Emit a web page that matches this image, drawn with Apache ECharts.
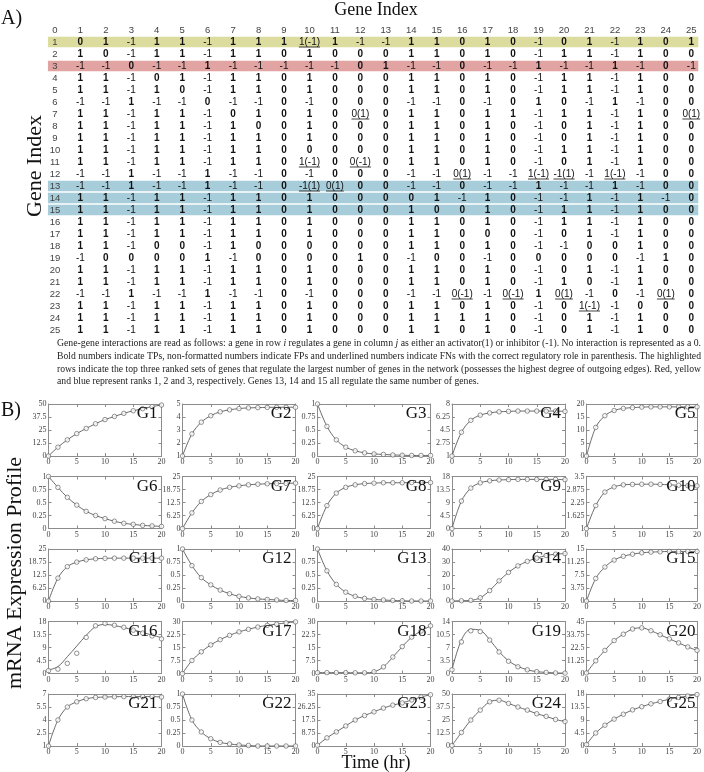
<!DOCTYPE html>
<html><head><meta charset="utf-8">
<script src="https://cdn.jsdelivr.net/npm/echarts/dist/echarts.min.js"></script>
<style>html,body{margin:0;padding:0;background:#fff}#c{width:704px;height:772px}</style>
</head><body><div id="c"></div><script>
// ---------------- DATA ----------------
const columnLabels = ['0','1','2','3','4','5','6','7','8','9','10','11','12','13','14','15','16','17','18','19','20','21','22','23','24','25'];
const interactionRows = [
 '0 1 -1 1 1 -1 1 1 1 1(-1) 1 -1 -1 1 1 0 1 0 -1 0 1 -1 1 0 1',
 '1 0 -1 1 1 -1 1 1 0 1 0 0 0 1 1 0 1 0 -1 1 1 -1 1 0 0',
 '-1 -1 0 -1 -1 1 -1 -1 -1 -1 -1 0 1 -1 -1 0 -1 -1 1 -1 -1 1 -1 0 -1',
 '1 1 -1 0 1 -1 1 1 0 1 0 0 0 1 1 0 1 0 -1 1 1 -1 1 0 0',
 '1 1 -1 1 0 -1 1 1 0 1 0 0 0 1 1 0 1 0 -1 1 1 -1 1 0 0',
 '-1 -1 1 -1 -1 0 -1 -1 0 -1 0 0 0 -1 -1 0 -1 0 1 0 -1 1 -1 0 0',
 '1 1 -1 1 1 -1 0 1 0 1 0 0(1) 0 1 1 0 1 1 -1 1 1 -1 1 0 0(1)',
 '1 1 -1 1 1 -1 1 0 0 1 0 0 0 1 1 0 1 0 -1 0 1 -1 1 0 0',
 '1 1 -1 1 1 -1 1 1 0 1 0 0 0 1 1 0 1 0 -1 0 1 -1 1 0 0',
 '1 1 -1 1 1 -1 1 1 0 0 0 0 0 1 1 0 1 0 -1 1 1 -1 1 0 0',
 '1 1 -1 1 1 -1 1 1 0 1(-1) 0 0(-1) 0 1 1 0 1 0 -1 0 1 -1 1 0 0',
 '-1 -1 1 -1 -1 1 -1 -1 0 -1 0 0 0 -1 -1 0(1) -1 -1 1(-1) -1(1) -1 1(-1) -1 0 0',
 '-1 -1 1 -1 -1 1 -1 -1 0 -1(1) 0(1) 0 0 -1 -1 0 -1 -1 1 -1 -1 1 -1 0 0',
 '1 1 -1 1 1 -1 1 1 0 1 0 0 0 0 1 -1 1 0 -1 -1 1 -1 1 -1 0',
 '1 1 -1 1 1 -1 1 1 0 1 0 0 0 1 0 0 1 0 -1 1 1 -1 1 0 0',
 '1 1 -1 1 1 -1 1 1 0 1 0 0 0 1 1 0 1 0 -1 1 1 -1 1 0 0',
 '1 1 -1 1 1 -1 1 1 0 1 0 0 0 1 1 0 0 0 -1 0 1 -1 1 0 0',
 '1 1 -1 0 0 -1 1 0 0 0 0 0 0 1 1 0 1 0 -1 -1 0 0 1 0 0',
 '-1 0 0 0 0 1 -1 0 0 0 0 1 0 -1 0 0 -1 0 0 0 0 0 -1 1 0',
 '1 1 -1 1 1 -1 1 1 0 1 0 0 0 1 1 0 1 0 -1 0 1 -1 1 0 0',
 '1 1 -1 1 1 -1 1 1 0 1 0 0 0 1 1 0 1 0 -1 1 0 -1 1 0 0',
 '-1 -1 1 -1 -1 1 -1 -1 0 -1 0 0 0 -1 -1 0(-1) -1 0(-1) 1 0(1) -1 0 -1 0(1) 0',
 '1 1 -1 1 1 -1 1 1 0 1 0 0 0 1 1 0 1 0 -1 0 1(-1) -1 0 0 0',
 '1 1 -1 1 1 -1 1 1 0 1 0 0 0 1 1 1 1 0 -1 0 1 -1 1 0 0',
 '1 1 -1 1 1 -1 1 1 0 1 0 0 0 1 1 0 1 0 -1 0 1 -1 1 0 0'
];
const highlightRows = [1, 3, 13, 14, 15];
const highlightRanks = [2, 1, 3, 3, 3];

const timePoints = [0, 1.67, 3.33, 5, 6.67, 8.33, 10, 11.67, 13.33, 15, 16.67, 18.33, 20];
const xTicks = [0, 5, 10, 15, 20];
const g1 = [0, 8.5, 15.5, 21.5, 26.5, 31, 35, 38, 41, 43.5, 45.5, 47.5, 49];
const g2 = [1, 2.7, 3.6, 4.1, 4.4, 4.55, 4.65, 4.7, 4.72, 4.74, 4.75, 4.75, 4.75];
const g3 = [1, 0.57, 0.31, 0.17, 0.1, 0.06, 0.04, 0.03, 0.02, 0.015, 0.01, 0.01, 0.01];
const g4 = [1, 4.2, 5.8, 6.5, 6.8, 6.95, 7.0, 7.05, 7.05, 7.05, 7.05, 7.05, 7.0];
const g5 = [0, 11, 15.5, 17.5, 18.3, 18.6, 18.8, 18.9, 18.9, 18.9, 18.9, 18.9, 18.9];
const g6 = [1, 0.79, 0.6, 0.45, 0.33, 0.25, 0.19, 0.14, 0.1, 0.08, 0.06, 0.05, 0.04];
const g7 = [0, 7.5, 13, 16.3, 18.5, 19.8, 20.5, 21, 21.3, 21.5, 21.6, 21.7, 21.8];
const g8 = [0, 11, 17, 19.8, 21, 21.6, 21.8, 22, 22, 22, 22.1, 22.1, 22.1];
const g9 = [0, 9.5, 14, 15.8, 16.5, 16.8, 16.9, 17, 17, 17, 17, 17, 16.9];
const g10 = [1, 2.1, 2.75, 3.0, 3.1, 3.12, 3.13, 3.13, 3.12, 3.1, 3.08, 3.06, 3.05];
const g11 = [0, 11, 16.5, 18.7, 19.8, 20.3, 20.5, 20.6, 20.6, 20.6, 20.6, 20.6, 20.6];
const g12 = [1, 0.68, 0.45, 0.31, 0.21, 0.14, 0.09, 0.06, 0.04, 0.03, 0.02, 0.01, 0.01];
const g13 = [1, 0.58, 0.32, 0.17, 0.09, 0.05, 0.03, 0.02, 0.01, 0.005, 0, 0, 0];
const g14 = [0, 0.2, 0.5, 2.5, 8, 15.5, 22, 27, 30.5, 33, 35, 36, 36.5];
const g15 = [0, 6.5, 9.8, 11.8, 12.9, 13.5, 13.9, 14.1, 14.2, 14.3, 14.3, 14.3, 14.3];
const g16 = [1, 1.5, 3.5, 7, 12.5, 16.5, 17.3, 16.7, 16, 15, 14, 13, 12];
const g16Fit = [1.2, 2.4, 5.8, 9.5, 13.2, 16.2, 17, 16.6, 15.9, 15.1, 14.2, 13.3, 12.4];
const g17 = [0, 7.5, 12.5, 16.5, 19.5, 22, 24, 25.5, 26.8, 27.8, 28.5, 29.2, 29.8];
const g18 = [0.5, 0.5, 0.5, 0.5, 0.4, 0.4, 1, 3.8, 9.5, 15.5, 21, 24.5, 27.5];
const g19 = [1, 8.5, 11.5, 11.3, 9, 5.8, 3.3, 1.8, 1, 0.5, 0.3, 0.15, 0.1];
const g19Fit = [1, 9, 11.9, 11.6, 9.1, 5.9, 3.4, 1.9, 1.0, 0.5, 0.3, 0.15, 0.1];
const g20 = [0.5, 11, 20, 28.5, 34, 38.5, 39.5, 37, 33.5, 30, 26.5, 23, 20];
const g21 = [1, 4, 5.5, 6.1, 6.45, 6.6, 6.65, 6.68, 6.7, 6.7, 6.7, 6.7, 6.65];
const g22 = [1, 0.5, 0.27, 0.14, 0.07, 0.04, 0.02, 0.01, 0, 0, 0, 0, 0];
const g23 = [0.5, 5.5, 9.5, 13.5, 17.5, 20.5, 23, 25.5, 27.5, 29, 31, 33, 34.5];
const g24 = [0.5, 13, 25, 34.5, 42.5, 44, 41, 37.5, 34.5, 31, 28.5, 25.5, 23.5];
const g25 = [0.5, 4.5, 7.2, 9.3, 11, 12.5, 13.6, 14.6, 15.4, 16.2, 16.8, 17.3, 17.8];
const geneNames = ['G1','G2','G3','G4','G5','G6','G7','G8','G9','G10','G11','G12','G13','G14','G15','G16','G17','G18','G19','G20','G21','G22','G23','G24','G25'];
const geneData = [g1,g2,g3,g4,g5,g6,g7,g8,g9,g10,g11,g12,g13,g14,g15,g16,g17,g18,g19,g20,g21,g22,g23,g24,g25];
const geneFit = [g1,g2,g3,g4,g5,g6,g7,g8,g9,g10,g11,g12,g13,g14,g15,g16Fit,g17,g18,g19Fit,g20,g21,g22,g23,g24,g25];
const yMin = [0,1,0,1,0, 0,0,0,0,1, 0,0,0,0,0, 0,0,0,0,0, 1,0,0,0,0];
const yMax = [50,5,1,8,20, 1,25,25,18,3.5, 25,1,1,40,15, 18,30,30,14,45, 7,1,35,50,18];
const yStep = [12.5,1,0.25,1.75,5, 0.25,6.25,6.25,4.5,0.625, 6.25,0.25,0.25,10,3.75, 4.5,7.5,7.5,3.5,11.25, 1.5,0.25,8.75,12.5,4.5];

const captionLines = [
 'Gene-gene interactions are read as follows: a gene in row {it|i} regulates a gene in column {it|j} as either an activator(1) or inhibitor (-1). No interaction is represented as a 0.',
 'Bold numbers indicate TPs, non-formatted numbers indicate FPs and underlined numbers indicate FNs with the correct regulatory role in parenthesis. The highlighted',
 'rows indicate the top three ranked sets of genes that regulate the largest number of genes in the network (possesses the highest degree of outgoing edges). Red, yellow',
 'and blue represent ranks 1, 2 and 3, respectively. Genes 13, 14 and 15 all regulate the same number of genes.'
];

// ---------------- LAYOUT / STYLE ----------------
const SERIF = "'Liberation Serif','DejaVu Serif',serif";
const NARROW = "'Liberation Sans Narrow','Liberation Sans',Arial,sans-serif";
const AX = '#8c8c8c';
const rankColors = {1:'#e2a3a3', 2:'#dcdc9e', 3:'#a8cdda'};
const plotLeft = [48.5, 182.5, 317.5, 452, 586.5];
const plotTop = [404, 476.5, 549, 621.5, 694];
const plotW = 113, plotH = 52;

const measureCtx = document.createElement('canvas').getContext('2d');
function textW(t, font){ measureCtx.font = font; return measureCtx.measureText(t).width; }

const cells = [];
for (let c = 0; c < 26; c++) cells.push({c, r:0, t:columnLabels[c], kind:'head'});
interactionRows.forEach((line, i) => {
  const r = i + 1;
  cells.push({c:0, r, t:String(r), kind:'head'});
  line.split(' ').forEach((v, j) => {
    const under = v.indexOf('(') >= 0;
    cells.push({c:j+1, r, t:v, kind: under ? 'under' : (v === '-1' ? 'plain' : 'bold')});
  });
});
const cellFont = {head:"9.5px " + NARROW, plain:"10px " + NARROW, bold:"bold 10px " + NARROW, under:"10px " + NARROW};

function renderCell(params, api){
  const cell = cells[params.dataIndex];
  const p = api.coord([api.value(0), api.value(1)]);
  const font = cellFont[cell.kind];
  const children = [{type:'text', x:p[0], y:p[1], style:{text:cell.t, font, fill: cell.kind==='head' ? '#444' : '#111', align:'center', verticalAlign:'middle'}}];
  if (cell.kind === 'under'){
    const w = textW(cell.t, font);
    children.push({type:'line', shape:{x1:p[0]-w/2, y1:p[1]+5, x2:p[0]+w/2, y2:p[1]+5}, style:{stroke:'#111', lineWidth:0.8}});
  }
  return {type:'group', children};
}
function renderBand(params, api){
  const r = api.value(1);
  const a = api.coord([0, r]), b = api.coord([25, r]);
  const rank = highlightRanks[params.dataIndex];
  const h = api.size([0, 1])[1];
  return {type:'rect', shape:{x:a[0]-7, y:a[1]-h/2+0.7, width:b[0]-a[0]+14, height:h-1.4}, style:{fill:rankColors[rank]}};
}

const grids = [{left:42.2, top:24, width:664.6, height:312, show:false}];
const xAxes = [{gridIndex:0, type:'category', data:columnLabels, show:false}];
const yAxes = [{gridIndex:0, type:'category', data:['h'].concat(interactionRows.map((_, i)=>String(i+1))), inverse:true, show:false}];
const series = [
  {type:'custom', xAxisIndex:0, yAxisIndex:0, data: highlightRows.map(r => [0, r]), renderItem: renderBand, z:1, silent:true},
  {type:'custom', xAxisIndex:0, yAxisIndex:0, data: cells.map(c => [c.c, c.r]), renderItem: renderCell, z:2, silent:true}
];
const graphics = [];

function mkAxis(gi, type, pos, min, max, step, labels){
  return {gridIndex:gi, type:'value', position:pos, min, max, interval:step,
    axisLine:{show:true, onZero:false, lineStyle:{color:AX, width:1}},
    axisTick:{show:true, inside:true, length:3, lineStyle:{color:AX}},
    axisLabel:{show:labels, fontSize:8, fontFamily:SERIF, color:'#444', margin:2}, splitLine:{show:false}};
}

for (let k = 0; k < 25; k++){
  const col = k % 5, row = Math.floor(k / 5), gi = k + 1;
  grids.push({left:plotLeft[col], top:plotTop[row], width:plotW, height:plotH, show:false});
  const x0 = xTicks[0], x1 = xTicks[xTicks.length-1], xs = xTicks[1]-xTicks[0];
  const xi = xAxes.length, yi = yAxes.length;
  xAxes.push(mkAxis(gi, 'x', 'bottom', x0, x1, xs, true));
  xAxes.push(mkAxis(gi, 'x', 'top', x0, x1, xs, false));
  yAxes.push(mkAxis(gi, 'y', 'left', yMin[k], yMax[k], yStep[k], true));
  yAxes.push(mkAxis(gi, 'y', 'right', yMin[k], yMax[k], yStep[k], false));
  series.push({type:'line', xAxisIndex:xi, yAxisIndex:yi, data: timePoints.map((t, i) => [t, geneFit[k][i]]), smooth:0.35, symbol:'none',
    lineStyle:{color:'#5a5a5a', width:0.9}, silent:true, z:3});
  series.push({type:'scatter', xAxisIndex:xi, yAxisIndex:yi, data: timePoints.map((t, i) => [t, geneData[k][i]]), symbol:'circle', symbolSize:4.5,
    itemStyle:{color:'#fff', borderColor:'#555', borderWidth:0.8}, silent:true, z:4});
  graphics.push({type:'text', x:plotLeft[col]+plotW-4, y:plotTop[row]+10, style:{text:geneNames[k], font:'17px ' + SERIF, fill:'#111', align:'right', verticalAlign:'middle'}, z:10});
}

graphics.push({type:'text', x:1, y:19, style:{text:'A)', font:'20px ' + SERIF, fill:'#111', align:'left', verticalAlign:'middle'}});
graphics.push({type:'text', x:376, y:10, style:{text:'Gene Index', font:'18px ' + SERIF, fill:'#111', align:'center', verticalAlign:'middle'}});
graphics.push({type:'text', x:35, y:166, rotation:Math.PI/2, style:{text:'Gene Index', font:'22px ' + SERIF, fill:'#111', align:'center', verticalAlign:'middle'}});
graphics.push({type:'text', x:1, y:411, style:{text:'B)', font:'20px ' + SERIF, fill:'#111', align:'left', verticalAlign:'middle'}});
graphics.push({type:'text', x:15, y:573, rotation:Math.PI/2, style:{text:'mRNA Expression Profile', font:'22px ' + SERIF, fill:'#111', align:'center', verticalAlign:'middle'}});
graphics.push({type:'text', x:376, y:763, style:{text:'Time (hr)', font:'18px ' + SERIF, fill:'#111', align:'center', verticalAlign:'middle'}});

const capFont = '10.5px ' + SERIF;
const capLeft = 57, capWidth = 644;
const capY = [343, 356, 369, 381];
let lastScale = 0.8;
captionLines.forEach((line, i) => {
  const plain = line.replace(/\{it\|(.)\}/g, '$1');
  let s = capWidth / textW(plain, capFont);
  if (i === 3) s = lastScale; else lastScale = s;
  graphics.push({type:'text', x:capLeft, y:capY[i], scaleX:s, scaleY:1,
    style:{text:line, font:capFont, fill:'#222', align:'left', verticalAlign:'middle',
      rich:{it:{fontStyle:'italic', fontFamily:SERIF, fontSize:10.5, fill:'#222'}}}});
});

const chart = echarts.init(document.getElementById('c'));
chart.setOption({animation:false, backgroundColor:'#fff', grid:grids, xAxis:xAxes, yAxis:yAxes, series, graphic:{elements:graphics}});
</script></body></html>
